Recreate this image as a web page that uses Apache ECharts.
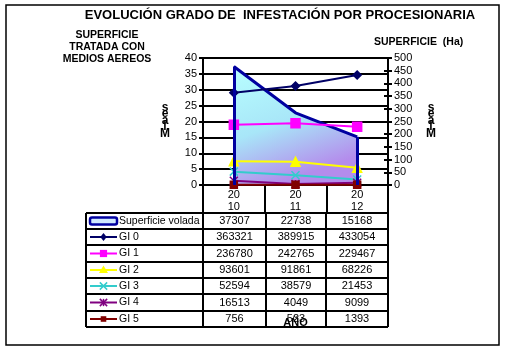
<!DOCTYPE html>
<html>
<head>
<meta charset="utf-8">
<script src="https://cdn.jsdelivr.net/npm/echarts@6/dist/echarts.min.js"></script>
<style>
  html, body { margin: 0; padding: 0; background: #fff; }
  #chart { width: 505px; height: 351px; }
</style>
</head>
<body>
<div id="chart"></div>
<script>
// datos de la tabla
var years = ['2010', '2011', '2012'];
var superficie = [37307, 22738, 15168];
var gi0 = [363321, 389915, 433054];
var gi1 = [236780, 242765, 229467];
var gi2 = [93601, 91861, 68226];
var gi3 = [52594, 38579, 21453];
var gi4 = [16513, 4049, 9099];
var gi5 = [756, 523, 1393];

var leftTicks = [0, 40, 5];    // min, max, interval (miles)
var rightTicks = [0, 500, 50];

var FONT = 'Liberation Sans, Arial, sans-serif';

var lines = [
  { name: 'GI 0', data: gi0, color: '#000066', symbol: 'diamond', size: 8 },
  { name: 'GI 1', data: gi1, color: '#FF00FF', symbol: 'rect', size: 9 },
  { name: 'GI 2', data: gi2, color: '#FFFF00', symbol: 'triangle', size: 9 },
  { name: 'GI 3', data: gi3, color: '#33CCCC', symbol: 'path://M0,0L10,10M10,0L0,10', size: 8 },
  { name: 'GI 4', data: gi4, color: '#800080', symbol: 'path://M0,0L10,10M10,0L0,10M5,0L5,10', size: 8 },
  { name: 'GI 5', data: gi5, color: '#800000', symbol: 'rect', size: 7 }
];

function miles(arr) {
  return arr.map(function (v) { return v / 1000; });
}

var series = [];
// superficie volada (area)
series.push({
  name: 'Superficie volada',
  type: 'line',
  yAxisIndex: 0,
  data: miles(superficie),
  symbol: 'none',
  lineStyle: { color: '#0000A0', width: 3 },
  areaStyle: {
    opacity: 1,
    color: new echarts.graphic.LinearGradient(0, 0, 0.35, 1, [
      { offset: 0, color: '#B8FFFF' },
      { offset: 0.55, color: '#A8E6F8' },
      { offset: 1, color: '#B48CEC' }
    ])
  },
  markLine: {
    silent: true,
    symbol: 'none',
    label: { show: false },
    lineStyle: { color: '#0000A0', width: 3, type: 'solid' },
    data: [
      [{ coord: [years[0], 0] }, { coord: [years[0], superficie[0] / 1000] }],
      [{ coord: [years[years.length - 1], 0] }, { coord: [years[years.length - 1], superficie[superficie.length - 1] / 1000] }]
    ]
  },
  z: 1
});

lines.forEach(function (l) {
  series.push({
    name: l.name,
    type: 'line',
    yAxisIndex: 1,
    data: miles(l.data),
    symbol: l.symbol,
    symbolSize: l.size,
    lineStyle: { color: l.color, width: 2 },
    itemStyle: { color: l.color, borderColor: l.color, borderWidth: 1.5 },
    z: 3
  });
});

// tabla de datos debajo del eje
var colX = [86, 203, 266, 326, 388];
var rowY = [213, 229, 245, 262, 278, 294, 311, 327];
var rows = [{ name: 'Superficie volada', data: superficie }].concat(lines);

var graphic = [];
// titulo y rotulos
graphic.push({ type: 'text', x: 280, y: 9, style: { text: 'EVOLUCIÓN GRADO DE  INFESTACIÓN POR PROCESIONARIA', font: 'bold 13px ' + FONT, fill: '#000', align: 'center' } });
graphic.push({ type: 'text', x: 107, y: 29, style: { text: 'SUPERFICIE\nTRATADA CON\nMEDIOS AEREOS', font: 'bold 10.5px ' + FONT, fill: '#000', align: 'center', lineHeight: 12 } });
graphic.push({ type: 'text', x: 374, y: 37, style: { text: 'SUPERFICIE  (Ha)', font: 'bold 10.5px ' + FONT, fill: '#000' } });
[165, 431].forEach(function (x) {
  graphic.push({ type: 'text', x: x, y: 104, style: { text: 's\ne\na\nl\nM', font: 'bold 12px ' + FONT, fill: '#000', align: 'center', lineHeight: 6.5 } });
});
// marco exterior
graphic.push({ type: 'rect', shape: { x: 6, y: 5, width: 493, height: 340 }, style: { fill: 'none', stroke: '#000', lineWidth: 1.5 }, z: -1 });

// lineas de la tabla
for (var r = 0; r < rowY.length; r++) {
  graphic.push({ type: 'line', shape: { x1: colX[0], y1: rowY[r], x2: colX[colX.length - 1], y2: rowY[r] }, style: { stroke: '#000', lineWidth: 2 } });
}
colX.forEach(function (x) {
  graphic.push({ type: 'line', shape: { x1: x, y1: rowY[0], x2: x, y2: rowY[rowY.length - 1] }, style: { stroke: '#000', lineWidth: 2 } });
});

rows.forEach(function (row, i) {
  var yc = (rowY[i] + rowY[i + 1]) / 2;
  // clave de leyenda
  if (i === 0) {
    graphic.push({ type: 'rect', shape: { x: 90, y: yc - 3.5, width: 27, height: 7, r: 2 }, style: { fill: '#CFE8FF', stroke: '#0000A0', lineWidth: 2.5 } });
  } else {
    graphic.push({ type: 'line', shape: { x1: 90, y1: yc, x2: 117, y2: yc }, style: { stroke: row.color, lineWidth: 2 } });
  }
  graphic.push({ type: 'text', x: 119, y: yc, style: { text: row.name, font: '10.5px ' + FONT, fill: '#000', verticalAlign: 'middle' } });
  row.data.forEach(function (v, j) {
    graphic.push({ type: 'text', x: (colX[j + 1] + colX[j + 2]) / 2, y: yc, style: { text: String(v), font: '11px ' + FONT, fill: '#000', align: 'center', verticalAlign: 'middle' } });
  });
});

// marcadores de la leyenda
function legendMarker(l, yc) {
  var s = l.size;
  var cx = 103.5;
  if (l.symbol === 'diamond') {
    return { type: 'polygon', shape: { points: [[cx, yc - s / 2], [cx + s / 2.5, yc], [cx, yc + s / 2], [cx - s / 2.5, yc]] }, style: { fill: l.color } };
  } else if (l.symbol === 'rect') {
    return { type: 'rect', shape: { x: cx - s / 2.5, y: yc - s / 2.5, width: s / 1.25, height: s / 1.25 }, style: { fill: l.color } };
  } else if (l.symbol === 'triangle') {
    return { type: 'polygon', shape: { points: [[cx, yc - s / 2], [cx + s / 2, yc + s / 3], [cx - s / 2, yc + s / 3]] }, style: { fill: l.color } };
  }
  var h = s / 2.2;
  var el = { type: 'group', children: [
    { type: 'line', shape: { x1: cx - h, y1: yc - h, x2: cx + h, y2: yc + h }, style: { stroke: l.color, lineWidth: 1.5 } },
    { type: 'line', shape: { x1: cx + h, y1: yc - h, x2: cx - h, y2: yc + h }, style: { stroke: l.color, lineWidth: 1.5 } }
  ] };
  if (l.name === 'GI 4') el.children.push({ type: 'line', shape: { x1: cx, y1: yc - h, x2: cx, y2: yc + h }, style: { stroke: l.color, lineWidth: 1.5 } });
  return el;
}
lines.forEach(function (l, i) {
  graphic.push(legendMarker(l, (rowY[i + 1] + rowY[i + 2]) / 2));
});

var chart = echarts.init(document.getElementById('chart'));

chart.setOption({
  animation: false,
  backgroundColor: '#fff',
  grid: { left: 203, right: 117, top: 58, bottom: 166 },
  xAxis: {
    type: 'category',
    data: years,
    boundaryGap: true,
    name: 'AÑO',
    nameLocation: 'middle',
    nameGap: 132,
    nameTextStyle: { fontWeight: 'bold', fontSize: 11, fontFamily: FONT, color: '#000' },
    axisLine: { lineStyle: { color: '#000', width: 2 } },
    axisTick: { show: true, length: 28, lineStyle: { color: '#000', width: 2 } },
    axisLabel: {
      color: '#000', fontSize: 11, fontFamily: FONT, margin: 4, lineHeight: 12,
      formatter: function (v) { return v.slice(0, 2) + '\n' + v.slice(2); }
    },
    splitLine: { show: false }
  },
  yAxis: [
    {
      type: 'value', position: 'left',
      min: leftTicks[0], max: leftTicks[1], interval: leftTicks[2],
      axisLine: { show: true, lineStyle: { color: '#000', width: 2 } },
      axisTick: { show: true, length: 4, lineStyle: { color: '#000', width: 2 } },
      axisLabel: { color: '#000', fontSize: 11, fontFamily: FONT, margin: 6 },
      splitLine: { show: true, lineStyle: { color: '#000', width: 2 } }
    },
    {
      type: 'value', position: 'right',
      min: rightTicks[0], max: rightTicks[1], interval: rightTicks[2],
      axisLine: { show: true, lineStyle: { color: '#000', width: 2 } },
      axisTick: { show: true, length: 4, lineStyle: { color: '#000', width: 2 } },
      axisLabel: { color: '#000', fontSize: 11, fontFamily: FONT, margin: 6 },
      splitLine: { show: false }
    },
    {
      type: 'value', position: 'right',
      min: rightTicks[0], max: rightTicks[1], interval: rightTicks[2],
      axisLine: { show: false },
      axisTick: { show: true, inside: true, length: 4, lineStyle: { color: '#000', width: 2 } },
      axisLabel: { show: false },
      splitLine: { show: false }
    }
  ],
  series: series,
  graphic: graphic
});
</script>
</body>
</html>
